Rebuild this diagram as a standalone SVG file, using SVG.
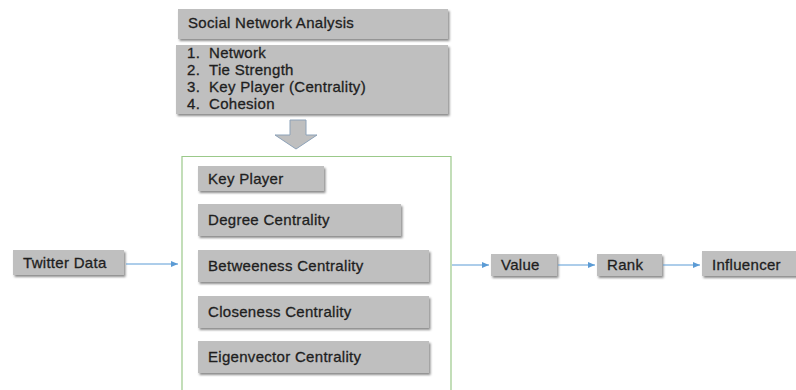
<svg xmlns="http://www.w3.org/2000/svg" width="796" height="390" viewBox="0 0 796 390">
<defs>
<filter id="sh" x="-10%" y="-20%" width="130%" height="160%">
<feDropShadow dx="1.5" dy="2" stdDeviation="1.2" flood-color="#000" flood-opacity="0.45"/>
</filter>
<marker id="ah" markerWidth="8" markerHeight="8" refX="7" refY="4" orient="auto" markerUnits="userSpaceOnUse">
<path d="M0,1 L7,4 L0,7 Z" fill="#5b9bd5"/>
</marker>
<style>
.box{fill:#bfbfbf;filter:url(#sh)}
.t{font-family:"Liberation Sans",Arial,sans-serif;font-size:15px;letter-spacing:0.3px;fill:#1e1e1e;stroke:#1e1e1e;stroke-width:0.3}
.c{stroke:#5b9bd5;stroke-width:1;fill:none;marker-end:url(#ah)}
</style>
</defs>
<rect width="796" height="390" fill="#fff"/>
<g id="sna">
<rect class="box" x="178" y="9" width="270" height="30"/>
<text class="t" x="188" y="28">Social Network Analysis</text>
</g>
<g id="list">
<rect class="box" x="176" y="45" width="272" height="69"/>
<text class="t" x="187" y="58">1.</text><text class="t" x="209" y="58">Network</text>
<text class="t" x="187" y="75">2.</text><text class="t" x="209" y="75">Tie Strength</text>
<text class="t" x="187" y="92">3.</text><text class="t" x="209" y="92">Key Player (Centrality)</text>
<text class="t" x="187" y="109">4.</text><text class="t" x="209" y="109">Cohesion</text>
</g>
<g id="blockarrow">
<path d="M290,120 H306 V135 H317 L296,149 L275,135 H290 Z" fill="#bfbfbf" stroke="#8da2b8" stroke-width="1"/>
</g>
<g id="centrality">
<path d="M182,390 V156.5 H451 V390" fill="none" stroke="#9bc98a" stroke-width="1.2"/>
</g>
<g id="keyplayer">
<rect class="box" x="198" y="166" width="126" height="25"/>
<text class="t" x="208" y="184">Key Player</text>
</g>
<g id="degree">
<rect class="box" x="198" y="204" width="203" height="32"/>
<text class="t" x="208" y="225">Degree Centrality</text>
</g>
<g id="betweeness">
<rect class="box" x="198" y="250" width="231" height="32"/>
<text class="t" x="208" y="271">Betweeness Centrality</text>
</g>
<g id="closeness">
<rect class="box" x="198" y="296" width="231" height="32"/>
<text class="t" x="208" y="317">Closeness Centrality</text>
</g>
<g id="eigenvector">
<rect class="box" x="198" y="341" width="231" height="32"/>
<text class="t" x="208" y="362">Eigenvector Centrality</text>
</g>
<g id="twitter">
<rect class="box" x="13" y="250" width="111" height="25"/>
<text class="t" x="23" y="268">Twitter Data</text>
</g>
<g id="value">
<rect class="box" x="491" y="254" width="66" height="22"/>
<text class="t" x="501" y="270">Value</text>
</g>
<g id="rank">
<rect class="box" x="597" y="254" width="65" height="22"/>
<text class="t" x="607" y="270">Rank</text>
</g>
<g id="influencer">
<rect class="box" x="702" y="251" width="96" height="25"/>
<text class="t" x="712" y="270">Influencer</text>
</g>
<g id="connectors">
<line class="c" x1="126" y1="264" x2="178" y2="264"/>
<line class="c" x1="452" y1="265" x2="489" y2="265"/>
<line class="c" x1="558" y1="265" x2="595" y2="265"/>
<line class="c" x1="663" y1="265" x2="700" y2="265"/>
</g>
</svg>
